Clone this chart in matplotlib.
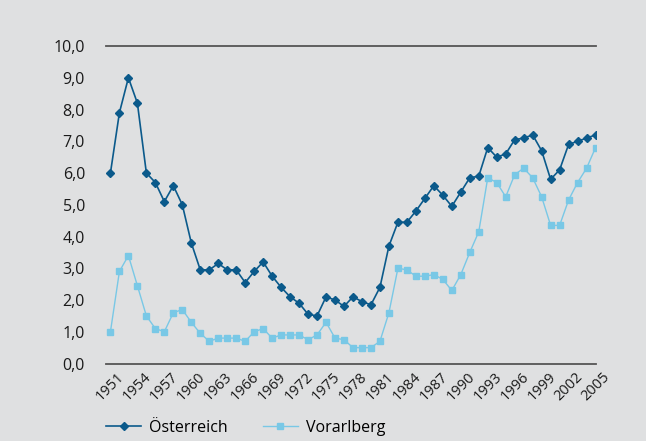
import matplotlib.pyplot as plt

plt.rcParams['font.family'] = ['Open Sans', 'DejaVu Sans']

# Jahre und Werte
jahre = list(range(1951, 2006))
oesterreich = [6.0, 7.9, 9.0, 8.2, 6.0, 5.7, 5.1, 5.6, 5.0, 3.8,
               2.95, 2.95, 3.15, 2.95, 2.95, 2.55, 2.9, 3.2, 2.75, 2.4,
               2.1, 1.9, 1.55, 1.5, 2.1, 2.0, 1.8, 2.1, 1.95, 1.85,
               2.4, 3.7, 4.45, 4.45, 4.8, 5.2, 5.6, 5.3, 4.95, 5.4,
               5.85, 5.9, 6.8, 6.5, 6.6, 7.05, 7.1, 7.2, 6.7, 5.8,
               6.1, 6.9, 7.0, 7.1, 7.2]
vorarlberg = [1.0, 2.9, 3.4, 2.45, 1.5, 1.1, 1.0, 1.6, 1.7, 1.3,
              0.95, 0.7, 0.8, 0.8, 0.8, 0.7, 1.0, 1.1, 0.8, 0.9,
              0.9, 0.9, 0.75, 0.9, 1.3, 0.8, 0.75, 0.5, 0.5, 0.5,
              0.7, 1.6, 3.0, 2.95, 2.75, 2.75, 2.8, 2.65, 2.3, 2.8,
              3.5, 4.15, 5.85, 5.7, 5.25, 5.95, 6.15, 5.85, 5.25, 4.35,
              4.35, 5.15, 5.7, 6.15, 6.8]
yticks = [0, 1, 2, 3, 4, 5, 6, 7, 8, 9, 10]
xticks = list(range(1951, 2006, 3))

bg = '#dfe0e1'
dunkel = '#0b5a8b'
hell = '#79c8e6'

fig = plt.figure(figsize=(6.46, 4.41), dpi=100, facecolor=bg)
ax = fig.add_axes([0.164, 0.1757, 0.7586, 0.72])
ax.set_facecolor(bg)

ax.plot(jahre, oesterreich, color=dunkel, lw=1.2, marker='D', ms=4.3,
        label='Österreich')
ax.plot(jahre, vorarlberg, color=hell, lw=1.0, marker='s', ms=4.6,
        label='Vorarlberg')

ax.set_ylim(0, 10)
ax.set_xlim(1950.5, 2005.05)
ax.set_yticks(yticks)
ax.set_yticklabels([f'{v:.1f}'.replace('.', ',') for v in yticks])
ax.set_xticks(xticks)
ax.set_xticklabels([str(j) for j in xticks], rotation=45, ha='center', va='top')
ax.tick_params(axis='y', length=0, pad=15, labelsize=11.5, colors='#1a1a1a')
ax.tick_params(axis='x', length=0, pad=4.5, labelsize=10.5, colors='#1a1a1a')

for s in ['left', 'right']:
    ax.spines[s].set_visible(False)
for s in ['top', 'bottom']:
    ax.spines[s].set_color('#555555')
    ax.spines[s].set_linewidth(1.3)

fig.legend(loc='center left', bbox_to_anchor=(0.164, 0.03), ncol=2,
           frameon=False, fontsize=11.5, handlelength=2.2, handletextpad=0.5,
           columnspacing=2.2, borderpad=0, borderaxespad=0)

fig.savefig('out.png', dpi=100, facecolor=bg)
